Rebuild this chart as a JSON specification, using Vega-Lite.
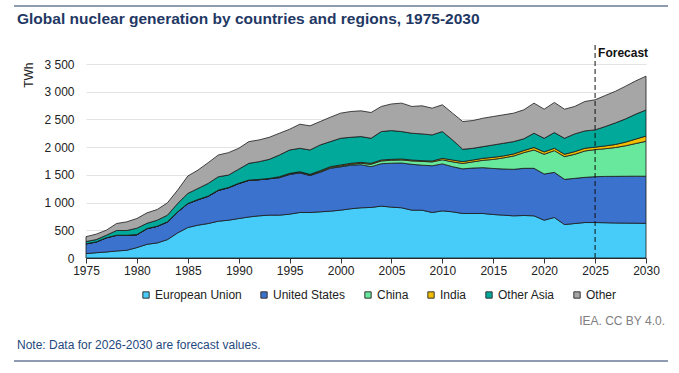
{
"$schema": "https://vega.github.io/schema/vega-lite/v6.json",
"width": 560, "height": 194,
"autosize": {"type": "none"},
"padding": {"left": 86, "top": 64, "right": 33, "bottom": 115},
"background": "white",
"config": {"font": "Liberation Sans", "view": {"stroke": null}},
"resolve": {"axis": {"x": "independent", "y": "independent"}},
"layer": [
{
"data": {"values": [
{"year":1975,"region":"European Union","twh":80},{"year":1975,"region":"United States","twh":175},{"year":1975,"region":"China","twh":0},{"year":1975,"region":"India","twh":2},{"year":1975,"region":"Other Asia","twh":40},{"year":1975,"region":"Other","twh":88},
{"year":1976,"region":"European Union","twh":95},{"year":1976,"region":"United States","twh":192},{"year":1976,"region":"China","twh":0},{"year":1976,"region":"India","twh":3},{"year":1976,"region":"Other Asia","twh":42},{"year":1976,"region":"Other","twh":98},
{"year":1977,"region":"European Union","twh":109},{"year":1977,"region":"United States","twh":255},{"year":1977,"region":"China","twh":0},{"year":1977,"region":"India","twh":3},{"year":1977,"region":"Other Asia","twh":45},{"year":1977,"region":"Other","twh":90},
{"year":1978,"region":"European Union","twh":127},{"year":1978,"region":"United States","twh":281},{"year":1978,"region":"China","twh":0},{"year":1978,"region":"India","twh":3},{"year":1978,"region":"Other Asia","twh":85},{"year":1978,"region":"Other","twh":126},
{"year":1979,"region":"European Union","twh":139},{"year":1979,"region":"United States","twh":269},{"year":1979,"region":"China","twh":0},{"year":1979,"region":"India","twh":3},{"year":1979,"region":"Other Asia","twh":85},{"year":1979,"region":"Other","twh":156},
{"year":1980,"region":"European Union","twh":188},{"year":1980,"region":"United States","twh":232},{"year":1980,"region":"China","twh":0},{"year":1980,"region":"India","twh":3},{"year":1980,"region":"Other Asia","twh":115},{"year":1980,"region":"Other","twh":175},
{"year":1981,"region":"European Union","twh":248},{"year":1981,"region":"United States","twh":281},{"year":1981,"region":"China","twh":0},{"year":1981,"region":"India","twh":3},{"year":1981,"region":"Other Asia","twh":95},{"year":1981,"region":"Other","twh":188},
{"year":1982,"region":"European Union","twh":272},{"year":1982,"region":"United States","twh":299},{"year":1982,"region":"China","twh":0},{"year":1982,"region":"India","twh":3},{"year":1982,"region":"Other Asia","twh":108},{"year":1982,"region":"Other","twh":193},
{"year":1983,"region":"European Union","twh":332},{"year":1983,"region":"United States","twh":317},{"year":1983,"region":"China","twh":0},{"year":1983,"region":"India","twh":3},{"year":1983,"region":"Other Asia","twh":121},{"year":1983,"region":"Other","twh":223},
{"year":1984,"region":"European Union","twh":453},{"year":1984,"region":"United States","twh":376},{"year":1984,"region":"China","twh":0},{"year":1984,"region":"India","twh":4},{"year":1984,"region":"Other Asia","twh":151},{"year":1984,"region":"Other","twh":241},
{"year":1985,"region":"European Union","twh":550},{"year":1985,"region":"United States","twh":430},{"year":1985,"region":"China","twh":0},{"year":1985,"region":"India","twh":4},{"year":1985,"region":"Other Asia","twh":181},{"year":1985,"region":"Other","twh":314},
{"year":1986,"region":"European Union","twh":592},{"year":1986,"region":"United States","twh":459},{"year":1986,"region":"China","twh":0},{"year":1986,"region":"India","twh":5},{"year":1986,"region":"Other Asia","twh":199},{"year":1986,"region":"Other","twh":332},
{"year":1987,"region":"European Union","twh":622},{"year":1987,"region":"United States","twh":490},{"year":1987,"region":"China","twh":0},{"year":1987,"region":"India","twh":5},{"year":1987,"region":"Other Asia","twh":229},{"year":1987,"region":"Other","twh":374},
{"year":1988,"region":"European Union","twh":664},{"year":1988,"region":"United States","twh":555},{"year":1988,"region":"China","twh":0},{"year":1988,"region":"India","twh":6},{"year":1988,"region":"Other Asia","twh":241},{"year":1988,"region":"Other","twh":393},
{"year":1989,"region":"European Union","twh":682},{"year":1989,"region":"United States","twh":585},{"year":1989,"region":"China","twh":0},{"year":1989,"region":"India","twh":6},{"year":1989,"region":"Other Asia","twh":224},{"year":1989,"region":"Other","twh":404},
{"year":1990,"region":"European Union","twh":712},{"year":1990,"region":"United States","twh":630},{"year":1990,"region":"China","twh":0},{"year":1990,"region":"India","twh":6},{"year":1990,"region":"Other Asia","twh":255},{"year":1990,"region":"Other","twh":377},
{"year":1991,"region":"European Union","twh":740},{"year":1991,"region":"United States","twh":660},{"year":1991,"region":"China","twh":0},{"year":1991,"region":"India","twh":6},{"year":1991,"region":"Other Asia","twh":302},{"year":1991,"region":"Other","twh":392},
{"year":1992,"region":"European Union","twh":761},{"year":1992,"region":"United States","twh":651},{"year":1992,"region":"China","twh":0},{"year":1992,"region":"India","twh":6},{"year":1992,"region":"Other Asia","twh":320},{"year":1992,"region":"Other","twh":392},
{"year":1993,"region":"European Union","twh":773},{"year":1993,"region":"United States","twh":657},{"year":1993,"region":"China","twh":0},{"year":1993,"region":"India","twh":6},{"year":1993,"region":"Other Asia","twh":344},{"year":1993,"region":"Other","twh":398},
{"year":1994,"region":"European Union","twh":773},{"year":1994,"region":"United States","twh":675},{"year":1994,"region":"China","twh":13},{"year":1994,"region":"India","twh":6},{"year":1994,"region":"Other Asia","twh":392},{"year":1994,"region":"Other","twh":392},
{"year":1995,"region":"European Union","twh":791},{"year":1995,"region":"United States","twh":715},{"year":1995,"region":"China","twh":13},{"year":1995,"region":"India","twh":8},{"year":1995,"region":"Other Asia","twh":422},{"year":1995,"region":"Other","twh":374},
{"year":1996,"region":"European Union","twh":821},{"year":1996,"region":"United States","twh":715},{"year":1996,"region":"China","twh":14},{"year":1996,"region":"India","twh":7},{"year":1996,"region":"Other Asia","twh":422},{"year":1996,"region":"Other","twh":435},
{"year":1997,"region":"European Union","twh":821},{"year":1997,"region":"United States","twh":666},{"year":1997,"region":"China","twh":14},{"year":1997,"region":"India","twh":8},{"year":1997,"region":"Other Asia","twh":440},{"year":1997,"region":"Other","twh":435},
{"year":1998,"region":"European Union","twh":833},{"year":1998,"region":"United States","twh":714},{"year":1998,"region":"China","twh":14},{"year":1998,"region":"India","twh":14},{"year":1998,"region":"Other Asia","twh":465},{"year":1998,"region":"Other","twh":422},
{"year":1999,"region":"European Union","twh":845},{"year":1999,"region":"United States","twh":774},{"year":1999,"region":"China","twh":15},{"year":1999,"region":"India","twh":14},{"year":1999,"region":"Other Asia","twh":452},{"year":1999,"region":"Other","twh":440},
{"year":2000,"region":"European Union","twh":863},{"year":2000,"region":"United States","twh":782},{"year":2000,"region":"China","twh":16},{"year":2000,"region":"India","twh":17},{"year":2000,"region":"Other Asia","twh":482},{"year":2000,"region":"Other","twh":453},
{"year":2001,"region":"European Union","twh":888},{"year":2001,"region":"United States","twh":786},{"year":2001,"region":"China","twh":17},{"year":2001,"region":"India","twh":17},{"year":2001,"region":"Other Asia","twh":470},{"year":2001,"region":"Other","twh":465},
{"year":2002,"region":"European Union","twh":906},{"year":2002,"region":"United States","twh":778},{"year":2002,"region":"China","twh":25},{"year":2002,"region":"India","twh":17},{"year":2002,"region":"Other Asia","twh":465},{"year":2002,"region":"Other","twh":464},
{"year":2003,"region":"European Union","twh":912},{"year":2003,"region":"United States","twh":736},{"year":2003,"region":"China","twh":43},{"year":2003,"region":"India","twh":17},{"year":2003,"region":"Other Asia","twh":452},{"year":2003,"region":"Other","twh":465},
{"year":2004,"region":"European Union","twh":936},{"year":2004,"region":"United States","twh":765},{"year":2004,"region":"China","twh":50},{"year":2004,"region":"India","twh":17},{"year":2004,"region":"Other Asia","twh":513},{"year":2004,"region":"Other","twh":453},
{"year":2005,"region":"European Union","twh":918},{"year":2005,"region":"United States","twh":792},{"year":2005,"region":"China","twh":53},{"year":2005,"region":"India","twh":17},{"year":2005,"region":"Other Asia","twh":519},{"year":2005,"region":"Other","twh":480},
{"year":2006,"region":"European Union","twh":906},{"year":2006,"region":"United States","twh":808},{"year":2006,"region":"China","twh":55},{"year":2006,"region":"India","twh":17},{"year":2006,"region":"Other Asia","twh":495},{"year":2006,"region":"Other","twh":513},
{"year":2007,"region":"European Union","twh":863},{"year":2007,"region":"United States","twh":827},{"year":2007,"region":"China","twh":62},{"year":2007,"region":"India","twh":16},{"year":2007,"region":"Other Asia","twh":483},{"year":2007,"region":"Other","twh":483},
{"year":2008,"region":"European Union","twh":863},{"year":2008,"region":"United States","twh":812},{"year":2008,"region":"China","twh":68},{"year":2008,"region":"India","twh":13},{"year":2008,"region":"Other Asia","twh":483},{"year":2008,"region":"Other","twh":507},
{"year":2009,"region":"European Union","twh":821},{"year":2009,"region":"United States","twh":843},{"year":2009,"region":"China","twh":70},{"year":2009,"region":"India","twh":16},{"year":2009,"region":"Other Asia","twh":471},{"year":2009,"region":"Other","twh":482},
{"year":2010,"region":"European Union","twh":851},{"year":2010,"region":"United States","twh":847},{"year":2010,"region":"China","twh":74},{"year":2010,"region":"India","twh":26},{"year":2010,"region":"Other Asia","twh":483},{"year":2010,"region":"Other","twh":483},
{"year":2011,"region":"European Union","twh":833},{"year":2011,"region":"United States","twh":815},{"year":2011,"region":"China","twh":87},{"year":2011,"region":"India","twh":33},{"year":2011,"region":"Other Asia","twh":362},{"year":2011,"region":"Other","twh":483},
{"year":2012,"region":"European Union","twh":803},{"year":2012,"region":"United States","twh":805},{"year":2012,"region":"China","twh":97},{"year":2012,"region":"India","twh":33},{"year":2012,"region":"Other Asia","twh":223},{"year":2012,"region":"Other","twh":501},
{"year":2013,"region":"European Union","twh":803},{"year":2013,"region":"United States","twh":820},{"year":2013,"region":"China","twh":112},{"year":2013,"region":"India","twh":33},{"year":2013,"region":"Other Asia","twh":211},{"year":2013,"region":"Other","twh":501},
{"year":2014,"region":"European Union","twh":803},{"year":2014,"region":"United States","twh":827},{"year":2014,"region":"China","twh":133},{"year":2014,"region":"India","twh":35},{"year":2014,"region":"Other Asia","twh":212},{"year":2014,"region":"Other","twh":512},
{"year":2015,"region":"European Union","twh":785},{"year":2015,"region":"United States","twh":830},{"year":2015,"region":"China","twh":163},{"year":2015,"region":"India","twh":38},{"year":2015,"region":"Other Asia","twh":224},{"year":2015,"region":"Other","twh":513},
{"year":2016,"region":"European Union","twh":773},{"year":2016,"region":"United States","twh":833},{"year":2016,"region":"China","twh":200},{"year":2016,"region":"India","twh":35},{"year":2016,"region":"Other Asia","twh":229},{"year":2016,"region":"Other","twh":513},
{"year":2017,"region":"European Union","twh":761},{"year":2017,"region":"United States","twh":839},{"year":2017,"region":"China","twh":240},{"year":2017,"region":"India","twh":37},{"year":2017,"region":"Other Asia","twh":223},{"year":2017,"region":"Other","twh":513},
{"year":2018,"region":"European Union","twh":767},{"year":2018,"region":"United States","twh":851},{"year":2018,"region":"China","twh":283},{"year":2018,"region":"India","twh":38},{"year":2018,"region":"Other Asia","twh":212},{"year":2018,"region":"Other","twh":522},
{"year":2019,"region":"European Union","twh":761},{"year":2019,"region":"United States","twh":857},{"year":2019,"region":"China","twh":331},{"year":2019,"region":"India","twh":45},{"year":2019,"region":"Other Asia","twh":257},{"year":2019,"region":"Other","twh":543},
{"year":2020,"region":"European Union","twh":682},{"year":2020,"region":"United States","twh":833},{"year":2020,"region":"China","twh":356},{"year":2020,"region":"India","twh":43},{"year":2020,"region":"Other Asia","twh":246},{"year":2020,"region":"Other","twh":525},
{"year":2021,"region":"European Union","twh":731},{"year":2021,"region":"United States","twh":814},{"year":2021,"region":"China","twh":392},{"year":2021,"region":"India","twh":43},{"year":2021,"region":"Other Asia","twh":283},{"year":2021,"region":"Other","twh":543},
{"year":2022,"region":"European Union","twh":604},{"year":2022,"region":"United States","twh":815},{"year":2022,"region":"China","twh":410},{"year":2022,"region":"India","twh":42},{"year":2022,"region":"Other Asia","twh":289},{"year":2022,"region":"Other","twh":525},
{"year":2023,"region":"European Union","twh":622},{"year":2023,"region":"United States","twh":815},{"year":2023,"region":"China","twh":434},{"year":2023,"region":"India","twh":48},{"year":2023,"region":"Other Asia","twh":320},{"year":2023,"region":"Other","twh":495},
{"year":2024,"region":"European Union","twh":640},{"year":2024,"region":"United States","twh":815},{"year":2024,"region":"China","twh":476},{"year":2024,"region":"India","twh":49},{"year":2024,"region":"Other Asia","twh":313},{"year":2024,"region":"Other","twh":531},
{"year":2025,"region":"European Union","twh":640},{"year":2025,"region":"United States","twh":827},{"year":2025,"region":"China","twh":488},{"year":2025,"region":"India","twh":45},{"year":2025,"region":"Other Asia","twh":311},{"year":2025,"region":"Other","twh":543},
{"year":2026,"region":"European Union","twh":636},{"year":2026,"region":"United States","twh":836},{"year":2026,"region":"China","twh":500},{"year":2026,"region":"India","twh":50},{"year":2026,"region":"Other Asia","twh":350},{"year":2026,"region":"Other","twh":560},
{"year":2027,"region":"European Union","twh":632},{"year":2027,"region":"United States","twh":841},{"year":2027,"region":"China","twh":520},{"year":2027,"region":"India","twh":55},{"year":2027,"region":"Other Asia","twh":390},{"year":2027,"region":"Other","twh":570},
{"year":2028,"region":"European Union","twh":630},{"year":2028,"region":"United States","twh":845},{"year":2028,"region":"China","twh":550},{"year":2028,"region":"India","twh":65},{"year":2028,"region":"Other Asia","twh":420},{"year":2028,"region":"Other","twh":590},
{"year":2029,"region":"European Union","twh":628},{"year":2029,"region":"United States","twh":848},{"year":2029,"region":"China","twh":590},{"year":2029,"region":"India","twh":80},{"year":2029,"region":"Other Asia","twh":450},{"year":2029,"region":"Other","twh":600},
{"year":2030,"region":"European Union","twh":625},{"year":2030,"region":"United States","twh":850},{"year":2030,"region":"China","twh":630},{"year":2030,"region":"India","twh":95},{"year":2030,"region":"Other Asia","twh":470},{"year":2030,"region":"Other","twh":610}
]},
"transform": [{"lookup": "region", "from": {"data": {"values": [{"region": "European Union", "rank": 1}, {"region": "United States", "rank": 2}, {"region": "China", "rank": 3}, {"region": "India", "rank": 4}, {"region": "Other Asia", "rank": 5}, {"region": "Other", "rank": 6}]}, "key": "region", "fields": ["rank"]}}],
"mark": {"type": "area", "stroke": "#1a1a1a", "strokeWidth": 0.8, "opacity": 1},
"encoding": {
"x": {"field": "year", "type": "quantitative", "scale": {"domain": [1975, 2030], "nice": false, "zero": false},
"axis": {"values": [1975,1980,1985,1990,1995,2000,2005,2010,2015,2020,2025,2030], "format": "d", "title": null, "grid": false, "labelFontSize": 12, "labelColor": "#222", "tickColor": "#333", "tickSize": 5, "domainColor": "#333", "labelPadding": 2, "labelFlush": false}},
"y": {"field": "twh", "type": "quantitative", "stack": "zero", "scale": {"domain": [0, 3500], "nice": false},
"axis": {"values": [0,500,1000,1500,2000,2500,3000,3500], "labelExpr": "replace(format(datum.value, ','), ',', ' ')", "labelOverlap": false, "title": "TWh", "titleFontSize": 12, "titleFontWeight": "normal", "titleColor": "#222", "titleAngle": -90, "titleAlign": "right", "titleBaseline": "middle", "titleX": -58, "titleY": -2, "domain": false, "ticks": false, "labelPadding": 12, "labelFontSize": 12, "labelColor": "#222", "gridColor": "#E3E3E3"}},
"color": {"field": "region", "type": "nominal",
"scale": {"domain": ["European Union", "United States", "China", "India", "Other Asia", "Other"], "range": ["#47CCFA", "#3B72CE", "#68E89C", "#F2BE00", "#00A99A", "#A6A6A6"]},
"legend": {"orient": "none", "legendX": 54, "legendY": 225, "direction": "horizontal", "title": null, "symbolType": "square", "symbolSize": 40, "symbolStrokeColor": "#333", "symbolStrokeWidth": 1, "symbolOpacity": 1, "labelFontSize": 12, "labelColor": "#222", "columnPadding": 16, "labelOffset": 3, "padding": 0}},
"order": {"field": "rank", "type": "quantitative"}
}
},
{
"data": {"values": [{"year": 2025}]},
"mark": {"type": "rule", "strokeDash": [5, 3], "color": "#111", "strokeWidth": 1, "clip": false},
"encoding": {"x": {"field": "year", "type": "quantitative", "axis": null}, "y": {"datum": 0, "axis": null}, "y2": {"datum": 3880}}
},
{
"data": {"values": [{"year": 2025, "label": "Forecast"}]},
"mark": {"type": "text", "align": "left", "baseline": "middle", "dx": 3, "fontSize": 12, "fontWeight": "bold", "color": "#111", "clip": false},
"encoding": {"x": {"field": "year", "type": "quantitative", "axis": null}, "y": {"datum": 3700, "axis": null}, "text": {"field": "label"}}
},
{
"data": {"values": [{"year": 1975, "label": "Global nuclear generation by countries and regions, 1975-2030"}]},
"mark": {"type": "text", "align": "left", "baseline": "middle", "dx": -69, "fontSize": 15.5, "fontWeight": "bold", "color": "#1F3864", "clip": false},
"encoding": {"x": {"field": "year", "type": "quantitative", "axis": null}, "y": {"datum": 4303, "axis": null}, "text": {"field": "label"}}
},
{
"data": {"values": [{"year": 2030, "label": "IEA. CC BY 4.0."}]},
"mark": {"type": "text", "align": "right", "baseline": "middle", "dx": 19, "fontSize": 12, "color": "#808080", "clip": false},
"encoding": {"x": {"field": "year", "type": "quantitative", "axis": null}, "y": {"datum": -1137, "axis": null}, "text": {"field": "label"}}
},
{
"data": {"values": [{"year": 1975, "label": "Note: Data for 2026-2030 are forecast values."}]},
"mark": {"type": "text", "align": "left", "baseline": "middle", "dx": -69, "fontSize": 12, "color": "#1F497D", "clip": false},
"encoding": {"x": {"field": "year", "type": "quantitative", "axis": null}, "y": {"datum": -1565, "axis": null}, "text": {"field": "label"}}
},
{
"data": {"values": [{"from": 1967.93, "to": 2032.16, "level": 4546}, {"from": 1967.93, "to": 2032.16, "level": -1858}]},
"mark": {"type": "rule", "color": "#1F3864", "strokeWidth": 1.2, "clip": false},
"encoding": {"x": {"field": "from", "type": "quantitative", "axis": null}, "x2": {"field": "to"}, "y": {"field": "level", "type": "quantitative", "axis": null}}
}
]
}
